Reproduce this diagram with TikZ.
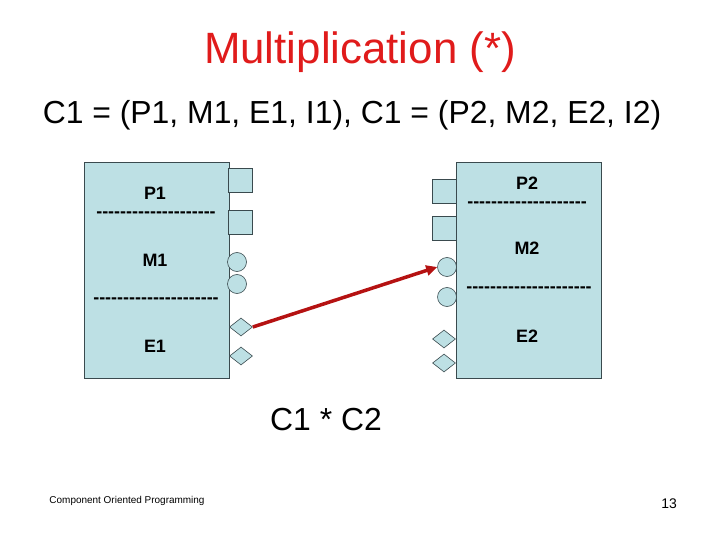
\documentclass[tikz,border=0pt]{standalone}
\usepackage{fontspec}
\setmainfont{Liberation Sans}
\usepackage{tikz}
\usetikzlibrary{shapes.geometric, arrows.meta, positioning}
\definecolor{titlered}{HTML}{E01B1B}
\definecolor{boxblue}{HTML}{BDE0E4}
\definecolor{portgray}{HTML}{3A4A4E}
\definecolor{linkred}{HTML}{B51212}
\newcommand{\dashrow}[1]{\foreach \k in {1,...,#1}{-}}

\begin{document}
\begin{tikzpicture}[x=1bp, y=-1bp,
  component/.style={draw=portgray, fill=boxblue, line width=0.6bp,
                    minimum width=145bp, minimum height=216bp, inner sep=0pt},
  sqport/.style={draw=portgray, fill=boxblue, line width=0.6bp,
                 minimum size=24bp, inner sep=0pt},
  cirport/.style={circle, draw=portgray, fill=boxblue, line width=0.6bp,
                  minimum size=19bp, inner sep=0pt},
  diaport/.style={diamond, draw=portgray, fill=boxblue, line width=0.6bp,
                  minimum width=23bp, minimum height=18bp, inner sep=0pt},
  part/.style={font=\fontsize{18}{20}\selectfont\bfseries, inner sep=0pt},
  link/.style={draw=linkred, line width=3.5bp, -{Triangle[length=11bp, width=10bp]}},
]
\useasboundingbox (0,0) rectangle (720,540);

\node[text=titlered, font=\fontsize{44}{48}\selectfont] (title) at (360,52) {Multiplication (*)};
\node[font=\fontsize{32}{36}\selectfont] (sub) at (352,115) {C1 = (P1, M1, E1, I1), C1 = (P2, M2, E2, I2)};

\node[component] (comp1) at (156.5,270) {};
\node[component] (comp2) at (528.5,270) {};

\node[part] (p1) at (155,193) {P1};
\node[part] (d1a) at (156,215) {\dashrow{20}};
\node[part] (m1) at (155,260) {M1};
\node[part] (d1b) at (156,301) {\dashrow{21}};
\node[part] (e1) at (155,346) {E1};

\node[part] (p2) at (527,183) {P2};
\node[part] (d2a) at (527,205) {\dashrow{20}};
\node[part] (m2) at (527,248) {M2};
\node[part] (d2b) at (529,290) {\dashrow{21}};
\node[part] (e2) at (527,336) {E2};

\node[sqport] (p1a) at (240,180) {};
\node[sqport] (p1b) at (240,222) {};
\node[cirport] (m1a) at (237,262) {};
\node[cirport] (m1b) at (237,284) {};
\node[diaport] (e1a) at (241,327) {};
\node[diaport] (e1b) at (241,356) {};

\node[sqport] (p2a) at (444,191.5) {};
\node[sqport] (p2b) at (444,228) {};
\node[cirport] (m2a) at (447,267) {};
\node[cirport] (m2b) at (447,297) {};
\node[diaport] (e2a) at (444,339) {};
\node[diaport] (e2b) at (444,363) {};

\draw[link] (e1a.east) -- (m2a.west);

\node[font=\fontsize{32}{36}\selectfont] (prod) at (326,420) {C1 * C2};
\node[font=\fontsize{10}{12}\selectfont] (foot) at (127,501) {Component Oriented Programming};
\node[font=\fontsize{14}{16}\selectfont] (page) at (669,504) {13};

\end{tikzpicture}
\end{document}
